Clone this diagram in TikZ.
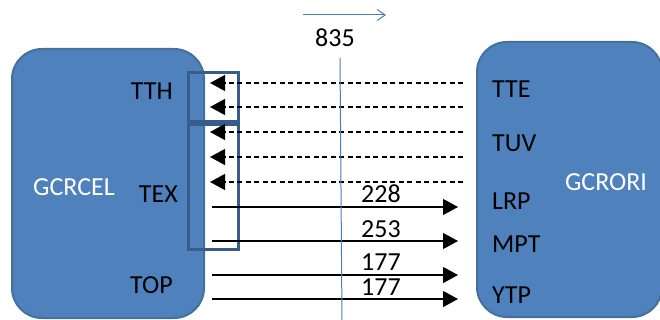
\documentclass[tikz,border=0pt]{standalone}
\usepackage{fontspec}
\setmainfont{Carlito}
\usetikzlibrary{arrows.meta}
\definecolor{boxfill}{HTML}{4F81BD}
\definecolor{boxline}{HTML}{41719C}
\definecolor{rectline}{HTML}{385D8A}
\definecolor{thinblue}{HTML}{4A7EBB}
\begin{document}
\begin{tikzpicture}[x=1pt,y=-1pt,
  bigbox/.style={draw=boxline,line width=2pt,fill=boxfill,rounded corners=30pt,inner sep=0pt},
  grp/.style={draw=rectline,line width=3pt,inner sep=0pt},
  lbl/.style={font=\fontsize{26}{31}\selectfont,inner sep=0pt},
  wlbl/.style={lbl,text=white},
  ret/.style={line width=1.2pt,dash pattern=on 5pt off 3.5pt,-{Triangle[length=15pt,width=16pt]}},
  fwd/.style={line width=1.2pt,-{Triangle[length=15pt,width=16pt]}}
]
\useasboundingbox (0,0) rectangle (660,320);
% big boxes
\node[bigbox,minimum width=192pt,minimum height=269pt] (cel) at (108,183.5) {};
\node[bigbox,minimum width=185pt,minimum height=275pt] (ori) at (569.5,179.5) {};
% group rectangles
\node[grp,minimum width=50pt,minimum height=49pt] (grpA) at (213,97.5) {};
\node[grp,minimum width=50pt,minimum height=124pt] (grpB) at (213,187) {};
% labels
\node[wlbl,anchor=base] (gcrcel) at (74,196) {GCRCEL};
\node[lbl,anchor=base east] (tth) at (173,100) {TTH};
\node[lbl,anchor=base east] (tex) at (178,203) {TEX};
\node[lbl,anchor=base east] (top) at (173,293) {TOP};
\node[wlbl,anchor=base] (gcrori) at (606,190) {GCRORI};
\node[lbl,anchor=base west] (tte) at (492,98) {TTE};
\node[lbl,anchor=base west] (tuv) at (492,152) {TUV};
\node[lbl,anchor=base west] (lrp) at (492,210) {LRP};
\node[lbl,anchor=base west] (mpt) at (492,252) {MPT};
\node[lbl,anchor=base west] (ytp) at (492,303) {YTP};
% numbers
\node[lbl,anchor=base] (n835) at (335,47) {835};
\node[lbl,anchor=base] (n228) at (381,203) {228};
\node[lbl,anchor=base] (n253) at (381,237) {253};
\node[lbl,anchor=base] (n177a) at (381,270) {177};
\node[lbl,anchor=base] (n177b) at (381,295) {177};
% connector end points
\foreach \i/\y in {1/83,2/107,3/132,4/157,5/182}{
  \coordinate (rs\i) at (463,\y);
  \coordinate (re\i) at (210,\y);
}
\foreach \i/\y in {1/207,2/241,3/275,4/299}{
  \coordinate (fs\i) at (212,\y);
  \coordinate (fe\i) at (458,\y);
}
\foreach \i in {1,...,5}{\draw[ret] (rs\i) -- (re\i);}
\foreach \i in {1,...,4}{\draw[fwd] (fs\i) -- (fe\i);}
% time line and direction arrow
\coordinate (vt) at (340,58);
\coordinate (vb) at (342,322);
\draw[thinblue,line width=1pt] (vt) -- (vb);
\coordinate (da) at (303,15);
\coordinate (db) at (386,15);
\draw[thinblue,line width=1pt,-{Straight Barb[length=8pt,width=11pt]}] (da) -- (db);
\end{tikzpicture}
\end{document}
